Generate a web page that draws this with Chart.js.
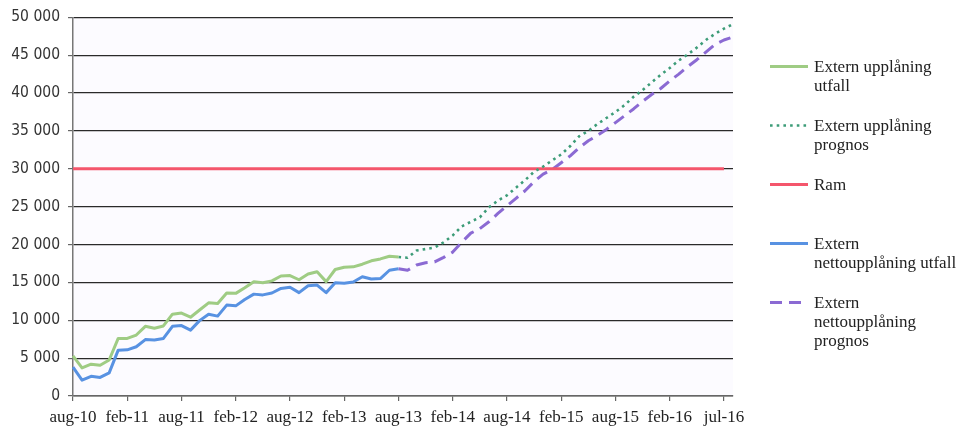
<!DOCTYPE html>
<html lang="sv">
<head>
<meta charset="utf-8">
<title>Extern upplåning</title>
<script src="https://cdn.jsdelivr.net/npm/chart.js@4.4.1/dist/chart.umd.min.js"></script>
<style>
  html, body { margin: 0; padding: 0; background: #fff; }
  #wrap { position: relative; width: 967px; height: 426px; }
  #c { position: absolute; left: 0; top: 0; }
  #legend {
    position: absolute; left: 770px; top: 57px;
    font-family: 'Liberation Serif', 'Times New Roman', serif;
    font-size: 17px; line-height: 19px; color: #222;
  }
  .item { display: flex; align-items: flex-start; margin-bottom: 21px; }
  .item.gap { margin-bottom: 40px; }
  .item svg { flex: none; margin-right: 6px; }
</style>
</head>
<body>
<div id="wrap">
  <canvas id="c" width="967" height="426"></canvas>
  <div id="legend"></div>
</div>
<script>
// Månader på x-axeln (index 0 = aug-10)
const months = [
  'aug-10','sep-10','okt-10','nov-10','dec-10','jan-11','feb-11','mar-11','apr-11','maj-11','jun-11','jul-11',
  'aug-11','sep-11','okt-11','nov-11','dec-11','jan-12','feb-12','mar-12','apr-12','maj-12','jun-12','jul-12',
  'aug-12','sep-12','okt-12','nov-12','dec-12','jan-13','feb-13','mar-13','apr-13','maj-13','jun-13','jul-13',
  'aug-13','sep-13','okt-13','nov-13','dec-13','jan-14','feb-14','mar-14','apr-14','maj-14','jun-14','jul-14',
  'aug-14','sep-14','okt-14','nov-14','dec-14','jan-15','feb-15','mar-15','apr-15','maj-15','jun-15','jul-15',
  'aug-15','sep-15','okt-15','nov-15','dec-15','jan-16','feb-16','mar-16','apr-16','maj-16','jun-16','jul-16',
  'aug-16','sep-16'
];

// Etiketter som visas var sjätte månad
const tickLabels = ['aug-10','feb-11','aug-11','feb-12','aug-12','feb-13','aug-13',
                    'feb-14','aug-14','feb-15','aug-15','feb-16','jul-16'];

// Extern upplåning, utfall (aug-10 – aug-13), mnkr
const upplaningUtfall = [
  5300, 3700, 4200, 4050, 4750, 7600, 7600, 8050, 9200, 8950, 9250, 10800,
  10950, 10400, 11350, 12300, 12200, 13600, 13550, 14300, 15100, 14950, 15200, 15850,
  15900, 15350, 16100, 16400, 15100, 16700, 17000, 17050, 17400, 17850, 18100, 18450,
  18350
];

// Extern upplåning, prognos (aug-13 – sep-16)
const upplaningPrognos = [
  18350, 18250, 19200, 19400, 19600, 20300, 21200, 22400, 23000, 23600, 24900, 25800,
  26500, 27500, 28500, 29600, 30300, 31100, 31900, 33000, 34300, 35000, 35900, 36700,
  37500, 38400, 39500, 40400, 41400, 42400, 43300, 44300, 45100, 46000, 47000, 47800,
  48500, 49100
];

// Ram för extern upplåning
const ramNiva = 30000;
const ramPeriod = ['aug-10', 'aug-16'];

// Extern nettoupplåning, utfall (aug-10 – aug-13)
const nettoUtfall = [
  3800, 2100, 2600, 2450, 3050, 6050, 6100, 6500, 7450, 7400, 7600, 9200,
  9300, 8700, 9950, 10800, 10550, 12000, 11900, 12750, 13450, 13350, 13600, 14200,
  14350, 13650, 14550, 14650, 13650, 14950, 14900, 15050, 15750, 15450, 15500, 16600,
  16800
];

// Extern nettoupplåning, prognos (aug-13 – sep-16)
const nettoPrognos = [
  16800, 16600, 17300, 17600, 17700, 18300, 19000, 20300, 21500, 22100, 23000, 24100,
  25100, 26100, 27100, 28300, 29300, 29900, 30800, 31700, 32800, 33700, 34400, 35200,
  36100, 37000, 37900, 38900, 39800, 40600, 41600, 42500, 43500, 44400, 45400, 46400,
  47000, 47400
];

const seriesNames = [
  ['Extern upplåning', 'utfall'],
  ['Extern upplåning', 'prognos'],
  ['Ram'],
  ['Extern', 'nettoupplåning utfall'],
  ['Extern', 'nettoupplåning', 'prognos']
];

const prognosStart = months.indexOf('aug-13');
const fromIndex = (start, values) => values.map((v, k) => ({ x: months[start + k], y: v }));

const datasets = [
  { label: seriesNames[0].join(' '), data: fromIndex(0, upplaningUtfall),
    borderColor: '#9fcc84', borderWidth: 3 },
  { label: seriesNames[1].join(' '), data: fromIndex(prognosStart, upplaningPrognos),
    borderColor: '#3d9c78', borderWidth: 2.6, borderDash: [2.6, 4.1] },
  { label: seriesNames[2].join(' '), data: ramPeriod.map(m => ({ x: m, y: ramNiva })),
    borderColor: '#f4566c', borderWidth: 3 },
  { label: seriesNames[3].join(' '), data: fromIndex(0, nettoUtfall),
    borderColor: '#5892e2', borderWidth: 3 },
  { label: seriesNames[4].join(' '), data: fromIndex(prognosStart, nettoPrognos),
    borderColor: '#8b6ad3', borderWidth: 3, borderDash: [12, 7] }
];
datasets.forEach(d => Object.assign(d, {
  pointRadius: 0, pointHoverRadius: 0, tension: 0, fill: false,
  borderCapStyle: 'butt', borderJoinStyle: 'round'
}));

const plotBackground = {
  id: 'plotBackground',
  beforeDraw(chart) {
    const { ctx, chartArea: a } = chart;
    ctx.save();
    ctx.fillStyle = '#fcfbff';
    ctx.fillRect(a.left, a.top, a.right - a.left, a.bottom - a.top);
    ctx.restore();
  }
};

const spaced = v => String(v).replace(/\B(?=(\d{3})+(?!\d))/g, ' ');

new Chart(document.getElementById('c'), {
  type: 'line',
  data: { labels: months, datasets },
  plugins: [plotBackground],
  options: {
    responsive: false,
    animation: false,
    layout: { padding: { left: 0, right: 234, top: 17, bottom: 0 } },
    plugins: { legend: { display: false }, tooltip: { enabled: false } },
    scales: {
      x: {
        type: 'category',
        offset: false,
        afterFit: s => { s.height = 30; },
        border: { display: true, color: '#666', width: 1.5 },
        grid: { display: true, drawOnChartArea: false, drawTicks: true, tickLength: 5, color: '#666', lineWidth: 1.2 },
        ticks: {
          autoSkip: false, maxRotation: 0, minRotation: 0, padding: 6,
          color: '#222',
          font: { family: "'Liberation Serif', 'Times New Roman', serif", size: 17 },
          callback: (value, index) => index % 6 === 0 ? tickLabels[index / 6] : null
        }
      },
      y: {
        min: 0, max: 50000,
        afterFit: s => { s.width = 73; },
        border: { display: true, color: '#777', width: 1.5 },
        grid: { color: '#2a2a2a', lineWidth: 1.2, drawTicks: true, tickLength: 5, tickColor: '#666' },
        ticks: {
          stepSize: 5000, padding: 8, color: '#333',
          font: { family: "'DejaVu Sans Condensed', 'Liberation Sans', sans-serif", size: 15.5 },
          callback: v => spaced(v)
        }
      }
    }
  }
});

// Förklaring till höger om diagrammet
const legend = document.getElementById('legend');
datasets.forEach((d, i) => {
  const item = document.createElement('div');
  item.className = 'item' + (i === 2 ? ' gap' : '');
  const dash = d.borderDash ? ` stroke-dasharray="${d.borderDash.join(' ')}"` : '';
  item.innerHTML =
    `<svg width="38" height="19"><line x1="0" y1="9.5" x2="38" y2="9.5" stroke="${d.borderColor}"` +
    ` stroke-width="${d.borderWidth}"${dash}/></svg>` +
    `<div>${seriesNames[i].join('<br>')}</div>`;
  legend.appendChild(item);
});
</script>
</body>
</html>
